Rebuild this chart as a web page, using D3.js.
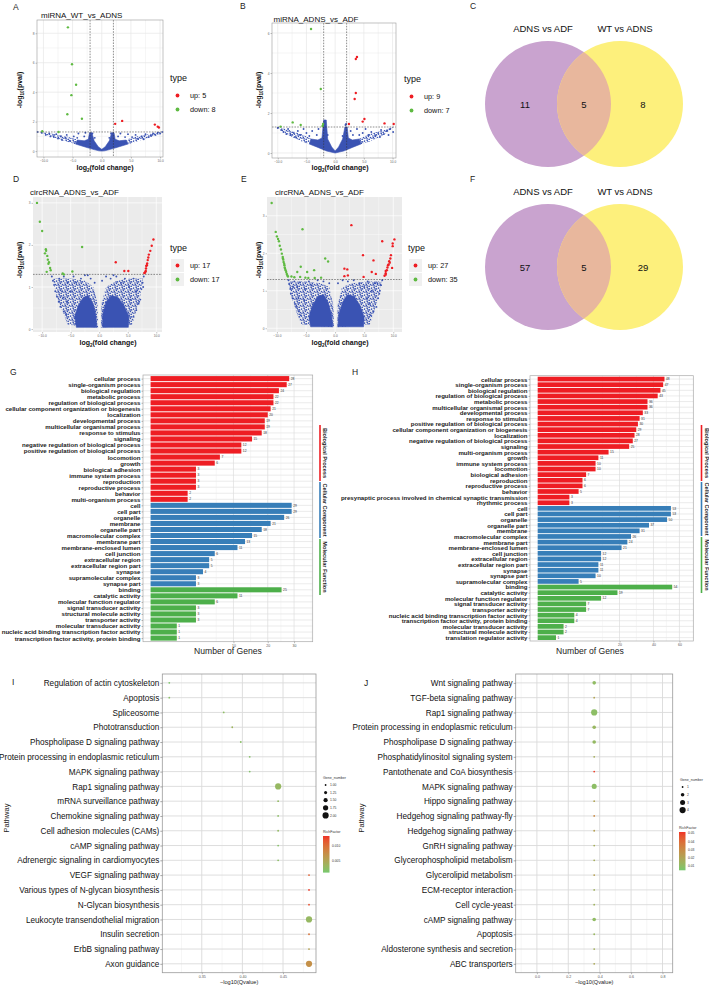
<!DOCTYPE html>
<html>
<head>
<meta charset="utf-8">
<script src="https://d3js.org/d3.v7.min.js"></script>
<style>
body { margin: 0; background: #fff; }
svg { font-family: "Liberation Sans", Arial, Helvetica, sans-serif; }
</style>
</head>
<body>
<script>
// ---------- volcano data (log2FC, -log10 p) ----------
var volA_up = [[2.3,1.85],[3.5,2.05],[9.1,1.8],[9.8,1.6],[9.6,1.66]];
var volA_down = [[-5.8,8.4],[-5.1,5.9],[-4.4,4.5],[-5.2,3.8],[-5.9,2.5],[-3.4,2.2],[-7.4,1.3],[-10.2,1.35]];
var volA_ns = [[-10.3,1.25],[-9.6,1.1],[-9,1.2],[-8.8,1.0],[-8.2,0.95],[-7.8,1.15],[-7.5,0.85],[-7,1.0],[-6.8,0.75],[-6.2,0.9],[-6,1.1],[-5.5,0.7],[-4.8,1.0],[-4.2,0.9],[-4,1.2],[-3,1.0],[-2.8,1.25],[-1.2,0.9],[-1.6,1.2],[1.3,0.9],[1.6,1.2],[2.8,1.0],[3.2,1.2],[4,0.95],[4.5,1.15],[5.2,0.95],[5.8,1.1],[6.2,0.85],[6.8,1.0],[7.2,0.8],[7.5,1.15],[8,0.95],[8.4,1.05],[8.8,1.2],[9.2,1.1],[9.6,1.25],[10,1.2],[-11,1.3],[10.4,1.3]];
// dense blue mass and thinner blue band, as outlines
var volA_dense = [[[-4.5,0.48],[-3,0.3],[-1.5,0.12],[-0.5,0.02],[0,0],[0.5,0.02],[1.5,0.12],[3,0.3],[4.5,0.48],[4.2,0.75],[3,0.7],[2.3,0.8],[2.1,1.25],[1.7,1.25],[1.3,0.7],[0.6,0.3],[0,0.12],[-0.6,0.3],[-1.3,0.7],[-1.7,1.25],[-2.1,1.25],[-2.3,0.8],[-3,0.7],[-4.2,0.75]]];
var volA_sparse = [[[-10.2,1.2],[-8,0.9],[-6,0.65],[-4.5,0.46],[-4.2,0.78],[-6,1.0],[-8,1.15],[-10.2,1.3]],
                   [[10.2,1.2],[8,0.9],[6,0.65],[4.5,0.46],[4.2,0.78],[6,1.0],[8,1.15],[10.2,1.3]]];

var volB_up = [[3.8,4.8],[3.6,4.7],[3.6,3.0],[3.4,2.7],[5.1,1.7],[4.8,1.57],[2.4,1.45],[8.6,1.48],[10.2,1.45]];
var volB_down = [[-4.2,6.2],[-2.5,3.2],[-7.4,1.53],[-6.0,1.4],[-9.5,1.32],[-2.2,1.35],[-2.1,1.45]];
var volB_ns = [[1.9,1.45],[1.8,1.4],[-10,1.25],[-9.4,1.15],[-9,1.05],[-8.5,0.95],[-8.2,1.2],[-7.8,0.9],[-7.2,1.0],[-7,0.8],[-6.5,1.1],[-6,0.9],[-5.5,1.2],[-5,1.0],[-4.5,0.85],[-4,1.1],[-3.2,0.9],[-2.9,1.2],[-1.3,0.9],[1.3,0.85],[2.7,1.1],[3.1,0.9],[3.8,1.2],[4.2,0.9],[4.8,1.0],[5.3,1.2],[5.8,0.9],[6.3,1.05],[7,0.85],[7.5,1.0],[8,1.15],[8.5,0.95],[9,1.1],[9.6,1.2],[10.1,1.05],[7.8,0.8],[9.3,0.9]];
var volB_dense = [[[-4.5,0.45],[-3,0.28],[-1.5,0.1],[0,0],[1.5,0.1],[3,0.28],[4.5,0.45],[4.2,0.7],[3,0.65],[2.3,0.75],[2.1,1.3],[1.7,1.3],[1.3,0.7],[0.6,0.3],[0,0.1],[-0.6,0.3],[-1.3,0.7],[-1.55,1.65],[-2.0,1.65],[-2.3,0.75],[-3,0.65],[-4.2,0.7]]];
var volB_sparse = [[[-10,1.25],[-8,0.88],[-6,0.6],[-4.5,0.43],[-4.2,0.72],[-6,0.95],[-8,1.15],[-10,1.3]],
                   [[10.2,1.27],[8,0.82],[6,0.58],[4.5,0.43],[4.2,0.72],[6,0.95],[8,1.1],[10.2,1.3]]];

var volD_up = [[9.5,2.13],[9.2,1.98],[8.95,1.86],[8.5,1.64],[8.4,1.56],[8.25,1.5],[8.2,1.44],[8.15,1.38],[7.9,1.33],[2.9,1.59],[4.4,1.38],[5.1,1.38],[8.6,1.7],[8.7,1.77],[8.35,1.52],[8.1,1.36],[8.0,1.34]];
var volD_down = [[-10.9,3.0],[-10,2.33],[-9.35,1.9],[-9.3,1.86],[-9.1,1.74],[-8.8,1.59],[-8.5,1.4],[-9.2,1.36],[-6.4,1.32],[-4.7,1.37],[-3.0,1.95],[-9.5,1.8],[-9.0,1.65],[-8.9,1.55],[-8.6,1.45],[-10.4,2.55],[-6.2,1.3]];
var volD_ns = [[-8.3,1.25],[-8.1,1.15],[-7.9,1.05],[-7.7,0.9],[-7.4,0.77],[-7.1,0.65],[-6.8,0.53],[-6.2,0.42],[-5.8,0.35],[7.8,1.25],[7.6,1.1],[7.4,0.95],[7.2,0.7],[6.9,0.6],[6.5,0.45],[6.0,0.29],[7.7,1.0],[7.0,0.65],[-7,1.2],[-6.2,1.25],[-5.5,1.1],[-5,0.9],[-4.5,1.25],[-6.5,0.9],[-4,1.1],[-3.2,1.2],[-2.5,1.28],[-1.5,1.2],[-0.8,1.1],[0.5,1.15],[1.2,1.25],[2,1.2],[3,1.25],[3.8,1.1],[4.5,1.2],[5.2,1.0],[6,1.2],[6.5,0.9],[5.5,0.7],[-5.6,0.65],[-6.3,0.75],[2.5,1.28],[-2,1.28]];
var volD_dense = [[[-4.0,0.04],[-4.3,0.3],[-3.7,0.55],[-2.8,0.75],[-2.0,0.8],[-1.2,0.65],[-0.6,0.35],[-0.4,0.04]],
                  [[0.6,0.04],[0.6,0.35],[1.2,0.65],[2.2,0.8],[3.3,0.75],[4.4,0.55],[5.2,0.3],[5.1,0.04]]];
var volD_sparse = [[[-5.5,0.1],[-6.5,0.45],[-7.5,0.8],[-8.1,1.2],[-5,1.2],[-2.5,1.15],[-1,1.0],[-0.3,0.6],[-0.2,0.03]],
                   [[0.3,0.03],[0.4,0.6],[1.2,1.0],[3,1.15],[5.5,1.2],[7.7,1.2],[7.2,0.8],[6.5,0.45],[5.8,0.1]]];

var volE_up = [[2.8,2.75],[10.2,2.37],[9.9,2.26],[9.9,2.19],[8.1,2.32],[4.8,1.95],[6.6,1.81],[9.5,1.86],[9.3,1.79],[9.0,1.62],[9.8,1.61],[1.6,1.59],[2.1,1.57],[6.3,1.5],[8.7,1.47],[8.7,1.43],[1.6,1.39],[2.2,1.41],[4.9,1.37],[8.7,1.53],[9.6,1.95],[9.2,1.7],[8.9,1.55],[9.1,1.68],[8.5,1.4],[7.0,1.45],[9.4,1.75]];
var volE_down = [[-10.9,3.34],[-10.2,2.57],[-9.65,2.32],[-9.3,2.1],[-9.15,1.99],[-8.97,1.86],[-8.85,1.77],[-8.7,1.68],[-8.6,1.59],[-8.4,1.5],[-8.2,1.41],[-5.6,2.64],[-1.7,1.86],[-1.2,1.78],[-5.9,1.64],[-4.8,1.5],[-3.6,1.55],[-6.0,1.37],[-5.1,1.35],[-4.6,1.34],[-3.5,1.34],[-2.4,1.35],[-7.5,1.38],[-9.5,2.2],[-9.0,1.9],[-8.9,1.83],[-8.75,1.72],[-8.65,1.62],[-8.5,1.55],[-8.3,1.45],[-8.1,1.38],[-10.0,2.45],[-9.8,2.38],[-7.0,1.36],[-6.5,1.5]];
var volE_ns = [[-8.0,1.28],[-7.9,1.18],[-7.7,1.05],[-7.6,0.92],[-7.3,0.8],[-6.9,0.65],[-6.7,0.57],[-6.2,0.45],[-5.9,0.35],[8.1,1.28],[7.9,1.15],[7.7,1.0],[7.6,0.92],[7.4,0.8],[7.1,0.57],[6.6,0.45],[6.1,0.35],[-7,1.25],[-6.5,1.1],[-6,1.22],[-5.2,1.05],[-4.5,1.25],[-4,1.15],[-3,1.28],[-2,1.25],[-1,1.2],[0.5,1.2],[1.3,1.28],[2.2,1.25],[3.2,1.28],[4.2,1.2],[5,1.1],[5.6,1.25],[6.3,1.0],[6.8,1.2],[-6.3,0.8],[-5.3,0.75],[5.5,0.8],[6.0,0.65],[-7.2,1.1],[7.3,1.2]];
var volE_dense = [[[-4.2,0.04],[-4.5,0.3],[-3.9,0.6],[-3.0,0.85],[-2.0,0.9],[-1.2,0.7],[-0.6,0.35],[-0.4,0.04]],
                  [[0.5,0.04],[0.6,0.35],[1.3,0.7],[2.2,0.9],[3.3,0.85],[4.3,0.6],[5.0,0.3],[4.9,0.04]]];
var volE_sparse = [[[-5.8,0.1],[-6.8,0.5],[-7.6,0.9],[-8.0,1.25],[-5,1.25],[-2.5,1.2],[-1,1.1],[-0.3,0.6],[-0.2,0.03]],
                   [[0.3,0.03],[0.4,0.6],[1.2,1.1],[3,1.2],[5.5,1.25],[8.0,1.25],[7.5,0.9],[6.8,0.5],[6.0,0.1]]];

// ---------- venn data ----------
var vennC_sets = ["ADNS vs ADF", "WT vs ADNS"];
var vennC_counts = [11, 5, 8];
var vennF_sets = ["ADNS vs ADF", "WT vs ADNS"];
var vennF_counts = [57, 5, 29];

// ---------- GO data ----------
var goG_bp = ["cellular process","single-organism process","biological regulation","metabolic process","regulation of biological process","cellular component organization or biogenesis","localization","developmental process","multicellular organismal process","response to stimulus","signaling","negative regulation of biological process","positive regulation of biological process","locomotion","growth","biological adhesion","immune system process","reproduction","reproductive process","behavior","multi-organism process"];
var goG_bpN = [28,27,24,22,22,21,20,19,19,18,15,12,12,7,6,3,3,3,3,2,2];
var goG_cc = ["cell","cell part","organelle","membrane","organelle part","macromolecular complex","membrane part","membrane-enclosed lumen","cell junction","extracellular region","extracellular region part","synapse","supramolecular complex","synapse part"];
var goG_ccN = [29,29,26,21,18,15,13,11,6,5,5,4,3,3];
var goG_mf = ["binding","catalytic activity","molecular function regulator","signal transducer activity","structural molecule activity","transporter activity","molecular transducer activity","nucleic acid binding transcription factor activity","transcription factor activity, protein binding"];
var goG_mfN = [25,11,6,3,3,3,1,1,1];

var goH_bp = ["cellular process","single-organism process","biological regulation","regulation of biological process","metabolic process","multicellular organismal process","developmental process","response to stimulus","positive regulation of biological process","cellular component organization or biogenesis","localization","negative regulation of biological process","signaling","multi-organism process","growth","immune system process","locomotion","biological adhesion","reproduction","reproductive process","behavior","presynaptic process involved in chemical synaptic transmission","rhythmic process"];
var goH_bpN = [48,47,45,43,36,36,33,31,30,29,28,27,25,15,11,10,10,7,6,6,5,3,3];
var goH_cc = ["cell","cell part","organelle","organelle part","membrane","macromolecular complex","membrane part","membrane-enclosed lumen","cell junction","extracellular region","extracellular region part","synapse","synapse part","supramolecular complex"];
var goH_ccN = [53,53,50,37,31,26,24,21,12,12,11,11,10,5];
var goH_mf = ["binding","catalytic activity","molecular function regulator","signal transducer activity","transporter activity","nucleic acid binding transcription factor activity","transcription factor activity, protein binding","molecular transducer activity","structural molecule activity","translation regulator activity"];
var goH_mfN = [54,19,12,7,7,4,4,2,2,1];
var goGroups = ["Biological Process", "Cellular Component", "Molecular Function"];

// ---------- KEGG data ----------
var keggI_path = ["Regulation of actin cytoskeleton","Apoptosis","Spliceosome","Phototransduction","Phospholipase D signaling pathway","Protein processing in endoplasmic reticulum","MAPK signaling pathway","Rap1 signaling pathway","mRNA surveillance pathway","Chemokine signaling pathway","Cell adhesion molecules (CAMs)","cAMP signaling pathway","Adrenergic signaling in cardiomyocytes","VEGF signaling pathway","Various types of N-glycan biosynthesis","N-Glycan biosynthesis","Leukocyte transendothelial migration","Insulin secretion","ErbB signaling pathway","Axon guidance"];
var keggI_q = [0.310,0.310,0.377,0.3875,0.398,0.409,0.409,0.444,0.444,0.444,0.444,0.444,0.444,0.482,0.482,0.482,0.482,0.482,0.482,0.482];
var keggI_genes = [1,1,1,1,1,1,1,2,1,1,1,1,1,1,1,1,2,1,1,2];
var keggI_rich = [0.0015,0.0022,0.0025,0.0035,0.0022,0.002,0.0018,0.003,0.0028,0.0024,0.0028,0.002,0.0024,0.011,0.013,0.012,0.003,0.0095,0.0055,0.0072];

var keggJ_path = ["Wnt signaling pathway","TGF-beta signaling pathway","Rap1 signaling pathway","Protein processing in endoplasmic reticulum","Phospholipase D signaling pathway","Phosphatidylinositol signaling system","Pantothenate and CoA biosynthesis","MAPK signaling pathway","Hippo signaling pathway","Hedgehog signaling pathway-fly","Hedgehog signaling pathway","GnRH signaling pathway","Glycerophospholipid metabolism","Glycerolipid metabolism","ECM-receptor interaction","Cell cycle-yeast","cAMP signaling pathway","Apoptosis","Aldosterone synthesis and secretion","ABC transporters"];
var keggJ_q = [0.365,0.365,0.365,0.365,0.365,0.365,0.365,0.365,0.365,0.365,0.365,0.365,0.365,0.365,0.365,0.365,0.365,0.365,0.365,0.365];
var keggJ_genes = [2,1,4,2,2,1,1,3,1,1,1,1,1,1,1,1,2,1,1,1];
var keggJ_rich = [0.010,0.020,0.009,0.012,0.011,0.016,0.050,0.009,0.020,0.030,0.022,0.016,0.016,0.022,0.014,0.014,0.010,0.012,0.015,0.018];

// ---------- drawing ----------
var W = 709, H = 988;
var RED = "#ee1d23", GREEN = "#5fba42", BLUE = "#3a53b3";
var svg = d3.select("body").append("svg").attr("width", W).attr("height", H);
svg.append("rect").attr("width", W).attr("height", H).attr("fill", "#fff");

// speckle pattern used for the thin parts of the blue point clouds
var pat = svg.append("defs").append("pattern").attr("id", "speckle")
  .attr("width", 7).attr("height", 7).attr("patternUnits", "userSpaceOnUse");
[[0.6,1.1],[3.2,0.5],[5.6,1.9],[1.9,3.0],[4.4,3.4],[6.5,4.6],[0.9,5.3],[3.1,5.9],[5.2,6.4],[2.4,4.6],[4.0,1.9]].forEach(function(p) {
  pat.append("circle").attr("cx", p[0]).attr("cy", p[1]).attr("r", 0.8).attr("fill", BLUE);
});

function minors(ticks, dom) {
  var m = [], st = ticks[1] - ticks[0];
  var ext = [ticks[0] - st].concat(ticks, [ticks[ticks.length - 1] + st]);
  for (var i = 0; i < ext.length - 1; i++) {
    var v = (ext[i] + ext[i + 1]) / 2;
    if (v > Math.min(dom[0], dom[1]) && v < Math.max(dom[0], dom[1])) m.push(v);
  }
  return m;
}

// text with a subscript part: pre + sub + post
function subText(t, pre, sub, post, fs) {
  t.append("tspan").text(pre);
  t.append("tspan").attr("font-size", fs * 0.65).attr("dy", fs * 0.3).text(sub);
  t.append("tspan").attr("dy", -fs * 0.3).text(post);
}

function panelLetter(s, x, y) {
  svg.append("text").attr("x", x).attr("y", y).attr("font-size", 8.5).attr("fill", "#222").text(s);
}

function volcano(o) {
  var g = svg.append("g");
  var b = o.box;
  var x = d3.scaleLinear().domain(o.xDom).range([b[0], b[2]]);
  var y = d3.scaleLinear().domain(o.yDom).range([b[3], b[1]]);
  var gray = o.theme === "gray";
  g.append("rect").attr("x", b[0]).attr("y", b[1]).attr("width", b[2] - b[0]).attr("height", b[3] - b[1])
    .attr("fill", gray ? "#ebebeb" : "#fff");
  var gc = gray ? "#fff" : "#e6e6e6";
  minors(o.xTicks, o.xDom).forEach(function(v) {
    g.append("line").attr("x1", x(v)).attr("x2", x(v)).attr("y1", b[1]).attr("y2", b[3]).attr("stroke", gc).attr("stroke-width", 0.35);
  });
  minors(o.yTicks, o.yDom).forEach(function(v) {
    g.append("line").attr("y1", y(v)).attr("y2", y(v)).attr("x1", b[0]).attr("x2", b[2]).attr("stroke", gc).attr("stroke-width", 0.35);
  });
  o.xTicks.forEach(function(v) {
    g.append("line").attr("x1", x(v)).attr("x2", x(v)).attr("y1", b[1]).attr("y2", b[3]).attr("stroke", gc).attr("stroke-width", 0.7);
  });
  o.yTicks.forEach(function(v) {
    g.append("line").attr("y1", y(v)).attr("y2", y(v)).attr("x1", b[0]).attr("x2", b[2]).attr("stroke", gc).attr("stroke-width", 0.7);
  });

  var line = d3.line().x(function(d) { return x(d[0]); }).y(function(d) { return y(d[1]); }).curve(d3.curveLinearClosed);
  o.sparse.forEach(function(poly) {
    g.append("path").attr("d", line(poly)).attr("fill", "url(#speckle)");
  });
  o.dense.forEach(function(poly) {
    g.append("path").attr("d", line(poly)).attr("fill", BLUE).attr("stroke", BLUE).attr("stroke-width", 0.6).attr("stroke-linejoin", "round");
  });
  g.selectAll(null).data(o.ns).enter().append("circle")
    .attr("cx", function(d) { return x(d[0]); }).attr("cy", function(d) { return y(d[1]); })
    .attr("r", 0.95).attr("fill", BLUE);

  var dash = "1.6,1.2";
  if (o.vlines) o.vlines.forEach(function(v) {
    g.append("line").attr("x1", x(v)).attr("x2", x(v)).attr("y1", b[1]).attr("y2", b[3])
      .attr("stroke", "#333").attr("stroke-width", 0.55).attr("stroke-dasharray", dash);
  });
  g.append("line").attr("x1", b[0]).attr("x2", b[2]).attr("y1", y(1.3)).attr("y2", y(1.3))
    .attr("stroke", "#333").attr("stroke-width", 0.55).attr("stroke-dasharray", dash);

  g.selectAll(null).data(o.down).enter().append("circle")
    .attr("cx", function(d) { return x(d[0]); }).attr("cy", function(d) { return y(d[1]); })
    .attr("r", 1.2).attr("fill", GREEN);
  g.selectAll(null).data(o.up).enter().append("circle")
    .attr("cx", function(d) { return x(d[0]); }).attr("cy", function(d) { return y(d[1]); })
    .attr("r", 1.2).attr("fill", RED);

  if (!gray) g.append("rect").attr("x", b[0]).attr("y", b[1]).attr("width", b[2] - b[0]).attr("height", b[3] - b[1])
    .attr("fill", "none").attr("stroke", "#999").attr("stroke-width", 0.6);

  var ax = g.append("g").attr("transform", "translate(0," + b[3] + ")")
    .call(d3.axisBottom(x).tickValues(o.xTicks).tickSize(1.5).tickPadding(1).tickFormat(d3.format(".1f")));
  var ay = g.append("g").attr("transform", "translate(" + b[0] + ",0)")
    .call(d3.axisLeft(y).tickValues(o.yTicks).tickSize(1.5).tickPadding(1).tickFormat(d3.format("d")));
  [ax, ay].forEach(function(a) {
    a.select(".domain").remove();
    a.selectAll("line").attr("stroke", "#666").attr("stroke-width", 0.4);
    a.selectAll("text").attr("font-size", 3.2).attr("fill", "#666").attr("font-family", null);
  });

  g.append("text").attr("x", o.titleAt[0]).attr("y", o.titleAt[1]).attr("font-size", 8).attr("fill", "#111").text(o.title);
  var xl = g.append("text").attr("x", o.xlabAt[0]).attr("y", o.xlabAt[1]).attr("text-anchor", "middle")
    .attr("font-size", 7).attr("font-weight", "bold").attr("fill", "#111");
  subText(xl, "log", "2", "(fold change)", 7);
  var yl = g.append("text").attr("transform", "translate(" + o.ylabAt[0] + "," + o.ylabAt[1] + ") rotate(-90)")
    .attr("text-anchor", "middle").attr("font-size", 7).attr("font-weight", "bold").attr("fill", "#111");
  subText(yl, "-log", "10", "(pval)", 7);

  var L = o.legendAt;
  g.append("text").attr("x", L[0]).attr("y", L[1]).attr("font-size", 9).attr("fill", "#111").text("type");
  var keys = [["up: " + o.up.length, RED], ["down: " + o.down.length, GREEN]];
  keys.forEach(function(k, i) {
    var ky = L[1] + 14.5 + i * 14;
    if (gray) g.append("rect").attr("x", L[0] + 1).attr("y", ky - 6.5).attr("width", 13).attr("height", 13).attr("fill", "#f0f0f0");
    g.append("circle").attr("cx", L[0] + 7.5).attr("cy", ky).attr("r", 1.9).attr("fill", k[1]);
    g.append("text").attr("x", L[0] + 20).attr("y", ky + 2.6).attr("font-size", 7.3).attr("fill", "#111").text(k[0]);
  });
}

function venn(o) {
  var g = svg.append("g");
  var c1 = [o.cx1, o.cy], c2 = [o.cx2, o.cy], r = o.r;
  var id = "clip" + o.cy;
  g.append("clipPath").attr("id", id).append("circle").attr("cx", c1[0]).attr("cy", c1[1]).attr("r", r);
  g.append("circle").attr("cx", c1[0]).attr("cy", c1[1]).attr("r", r).attr("fill", "#c9a3cf");
  g.append("circle").attr("cx", c2[0]).attr("cy", c2[1]).attr("r", r).attr("fill", "#fdf07c");
  g.append("circle").attr("cx", c2[0]).attr("cy", c2[1]).attr("r", r).attr("fill", "#e8b79d").attr("clip-path", "url(#" + id + ")");
  g.append("text").attr("x", c1[0] - 5).attr("y", o.cy - r - 9).attr("text-anchor", "middle").attr("font-size", 9.5).attr("fill", "#111").text(o.sets[0]);
  g.append("text").attr("x", c2[0] + 5).attr("y", o.cy - r - 9).attr("text-anchor", "middle").attr("font-size", 9.5).attr("fill", "#111").text(o.sets[1]);
  var xs = [(c1[0] - r + c2[0] - r) / 2 + 4, (c1[0] + c2[0]) / 2, (c1[0] + r + c2[0] + r) / 2 - 4];
  o.counts.forEach(function(n, i) {
    g.append("text").attr("x", xs[i]).attr("y", o.cy + 3.5).attr("text-anchor", "middle").attr("font-size", 9.5).attr("fill", "#111").text(n);
  });
}

function goChart(o) {
  var g = svg.append("g");
  var b = o.box;
  var terms = [], counts = [], grp = [];
  o.groups.forEach(function(gr, gi) {
    gr[0].forEach(function(t, i) { terms.push(t); counts.push(gr[1][i]); grp.push(gi); });
  });
  var idx = d3.range(terms.length);
  var y = d3.scalePoint().domain(idx).range([b[1], b[3]]).padding(0.6);
  var x = d3.scaleSqrt().domain(o.xDom).range([b[0], b[2]]);
  var step = y.step();
  var cols = [RED, "#377eb8", "#4daf4a"];
  g.append("rect").attr("x", b[0]).attr("y", b[1]).attr("width", b[2] - b[0]).attr("height", b[3] - b[1]).attr("fill", "#fff");
  idx.forEach(function(i) {
    g.append("line").attr("x1", b[0]).attr("x2", b[2]).attr("y1", y(i)).attr("y2", y(i)).attr("stroke", "#e2e2e2").attr("stroke-width", 0.7);
  });
  var sq = o.ticks.map(Math.sqrt);
  var sdom = [Math.sign(o.xDom[0]) * Math.sqrt(Math.abs(o.xDom[0])), Math.sqrt(o.xDom[1])];
  minors(sq, sdom).forEach(function(v) {
    g.append("line").attr("x1", x(v * v)).attr("x2", x(v * v)).attr("y1", b[1]).attr("y2", b[3]).attr("stroke", "#ebebeb").attr("stroke-width", 0.4);
  });
  o.ticks.forEach(function(v) {
    g.append("line").attr("x1", x(v)).attr("x2", x(v)).attr("y1", b[1]).attr("y2", b[3]).attr("stroke", "#dcdcdc").attr("stroke-width", 0.7);
  });
  g.selectAll(null).data(idx).enter().append("rect")
    .attr("x", x(0)).attr("y", function(i) { return y(i) - step * 0.42; })
    .attr("width", function(i) { return x(counts[i]) - x(0); }).attr("height", step * 0.84)
    .attr("fill", function(i) { return cols[grp[i]]; });
  g.selectAll(null).data(idx).enter().append("text")
    .attr("x", function(i) { return x(counts[i]) + 1.5; }).attr("y", function(i) { return y(i) + 1.2; })
    .attr("font-size", 3.3).attr("fill", "#333").text(function(i) { return counts[i]; });
  g.append("rect").attr("x", b[0]).attr("y", b[1]).attr("width", b[2] - b[0]).attr("height", b[3] - b[1])
    .attr("fill", "none").attr("stroke", "#aaa").attr("stroke-width", 0.7);
  var ay = g.append("g").attr("transform", "translate(" + b[0] + ",0)")
    .call(d3.axisLeft(y).tickSize(1.5).tickPadding(1).tickFormat(function(i) { return terms[i]; }));
  ay.select(".domain").remove();
  ay.selectAll("line").attr("stroke", "#555").attr("stroke-width", 0.4);
  ay.selectAll("text").attr("font-size", 6.1).attr("font-weight", "bold").attr("fill", "#1a1a1a").attr("font-family", null);
  var ax = g.append("g").attr("transform", "translate(0," + b[3] + ")")
    .call(d3.axisBottom(x).tickValues(o.ticks).tickSize(1.5).tickPadding(1).tickFormat(d3.format("d")));
  ax.select(".domain").remove();
  ax.selectAll("line").attr("stroke", "#555").attr("stroke-width", 0.4);
  ax.selectAll("text").attr("font-size", 3.5).attr("fill", "#555").attr("font-family", null);
  g.append("text").attr("x", o.xlabAt[0]).attr("y", o.xlabAt[1]).attr("text-anchor", "middle")
    .attr("font-size", 8.6).attr("fill", "#222").text("Number of Genes");
  // category strips
  o.strips.forEach(function(s, i) {
    g.append("line").attr("x1", o.stripX).attr("x2", o.stripX).attr("y1", s[0]).attr("y2", s[1])
      .attr("stroke", cols[i]).attr("stroke-width", 1.6);
    g.append("text").attr("transform", "translate(" + (o.stripX + 3) + "," + ((s[0] + s[1]) / 2) + ") rotate(90)")
      .attr("text-anchor", "middle").attr("font-size", 5.6).attr("font-weight", "bold").attr("fill", "#222").text(goGroups[i]);
  });
}

function bubble(o) {
  var g = svg.append("g");
  var b = o.box;
  var y = d3.scalePoint().domain(o.path).range([b[1], b[3]]).padding(0.6);
  var x = d3.scaleLinear().domain(o.xDom).range([b[0], b[2]]);
  var size = d3.scaleSqrt().domain(o.sizeDom).range(o.sizeRange);
  var color = d3.scaleLinear().domain(o.colorDom).range(["#76c96e", "#ef3328"]).interpolate(d3.interpolateLab);
  g.append("rect").attr("x", b[0]).attr("y", b[1]).attr("width", b[2] - b[0]).attr("height", b[3] - b[1]).attr("fill", "#fff");
  minors(o.ticks, o.xDom).forEach(function(v) {
    g.append("line").attr("x1", x(v)).attr("x2", x(v)).attr("y1", b[1]).attr("y2", b[3]).attr("stroke", "#ececec").attr("stroke-width", 0.5);
  });
  o.ticks.forEach(function(v) {
    g.append("line").attr("x1", x(v)).attr("x2", x(v)).attr("y1", b[1]).attr("y2", b[3]).attr("stroke", "#dadada").attr("stroke-width", 0.9);
  });
  o.path.forEach(function(p) {
    g.append("line").attr("x1", b[0]).attr("x2", b[2]).attr("y1", y(p)).attr("y2", y(p)).attr("stroke", "#dadada").attr("stroke-width", 0.9);
  });
  g.append("rect").attr("x", b[0]).attr("y", b[1]).attr("width", b[2] - b[0]).attr("height", b[3] - b[1])
    .attr("fill", "none").attr("stroke", "#9a9a9a").attr("stroke-width", 0.8);
  g.selectAll(null).data(d3.range(o.path.length)).enter().append("circle")
    .attr("cx", function(i) { return x(o.q[i]); }).attr("cy", function(i) { return y(o.path[i]); })
    .attr("r", function(i) { return size(o.genes[i]); }).attr("fill", function(i) { return color(o.rich[i]); });
  var ay = g.append("g").attr("transform", "translate(" + b[0] + ",0)")
    .call(d3.axisLeft(y).tickSize(2).tickPadding(1));
  ay.select(".domain").remove();
  ay.selectAll("line").attr("stroke", "#555").attr("stroke-width", 0.5);
  ay.selectAll("text").attr("font-size", 8.2).attr("fill", "#111").attr("font-family", null);
  var ax = g.append("g").attr("transform", "translate(0," + b[3] + ")")
    .call(d3.axisBottom(x).tickValues(o.ticks).tickSize(1.5).tickPadding(1.5).tickFormat(d3.format(o.fmt)));
  ax.select(".domain").remove();
  ax.selectAll("line").attr("stroke", "#555").attr("stroke-width", 0.4);
  ax.selectAll("text").attr("font-size", 3.6).attr("fill", "#555").attr("font-family", null);
  g.append("text").attr("x", (b[0] + b[2]) / 2).attr("y", b[3] + 11.5).attr("text-anchor", "middle")
    .attr("font-size", 5.6).attr("fill", "#222").text("\u2212log10(Qvalue)");
  g.append("text").attr("transform", "translate(" + o.pathwayAt[0] + "," + o.pathwayAt[1] + ") rotate(-90)")
    .attr("text-anchor", "middle").attr("font-size", 7.5).attr("fill", "#222").text("Pathway");

  // size legend
  var S = o.sizeLeg;
  g.append("text").attr("x", S[0]).attr("y", S[1]).attr("font-size", 3.6).attr("fill", "#333").text("Gene_number");
  o.sizeBreaks.forEach(function(v, i) {
    var cy = S[1] + 6 + i * S[2];
    g.append("circle").attr("cx", S[0] + 2.6).attr("cy", cy).attr("r", size(v)).attr("fill", "#111");
    g.append("text").attr("x", S[0] + 7).attr("y", cy + 1.2).attr("font-size", 3.3).attr("fill", "#333").text(o.sizeFmt(v));
  });
  // colour legend
  var C = o.colLeg;
  g.append("text").attr("x", C[0]).attr("y", C[1]).attr("font-size", 3.6).attr("fill", "#333").text("RichFactor");
  var gid = "grad" + Math.round(b[0]);
  var grad = g.append("defs").append("linearGradient").attr("id", gid).attr("x1", 0).attr("x2", 0).attr("y1", 1).attr("y2", 0);
  d3.range(0, 1.01, 0.1).forEach(function(t) {
    grad.append("stop").attr("offset", t).attr("stop-color", color(o.colorDom[0] + t * (o.colorDom[1] - o.colorDom[0])));
  });
  var cb = d3.scaleLinear().domain(o.colorDom).range([C[1] + 3 + C[2], C[1] + 3]);
  g.append("rect").attr("x", C[0]).attr("y", C[1] + 3).attr("width", 6.5).attr("height", C[2]).attr("fill", "url(#" + gid + ")");
  o.colBreaks.forEach(function(v) {
    g.append("text").attr("x", C[0] + 9).attr("y", cb(v) + 1.2).attr("font-size", 3.3).attr("fill", "#333").text(o.colFmt(v));
  });
}

// ---- A, B, D, E : volcano plots
volcano({ box: [37, 20, 163, 157], xDom: [-11.1, 10.5], yDom: [-0.4, 8.9], xTicks: [-10, -5, 0, 5, 10], yTicks: [0, 2, 4, 6, 8],
  theme: "bw", vlines: [-2, 2], title: "miRNA_WT_vs_ADNS", titleAt: [41, 18.3], xlabAt: [105, 170], ylabAt: [22, 90],
  legendAt: [170, 81], up: volA_up, down: volA_down, ns: volA_ns, dense: volA_dense, sparse: volA_sparse });
volcano({ box: [272, 23, 396, 158], xDom: [-11.0, 10.6], yDom: [-0.25, 6.5], xTicks: [-10, -5, 0, 5, 10], yTicks: [0, 2, 4, 6],
  theme: "bw", vlines: [-2, 2], title: "miRNA_ADNS_vs_ADF", titleAt: [273.5, 21.5], xlabAt: [340, 170], ylabAt: [261, 90],
  legendAt: [404, 82], up: volB_up, down: volB_down, ns: volB_ns, dense: volB_dense, sparse: volB_sparse });
volcano({ box: [33, 197, 162, 332], xDom: [-11.6, 11.0], yDom: [-0.07, 3.14], xTicks: [-10, -5, 0, 5, 10], yTicks: [0, 1, 2, 3],
  theme: "gray", title: "circRNA_ADNS_vs_ADF", titleAt: [30, 195], xlabAt: [108, 345], ylabAt: [22, 260],
  legendAt: [170, 251], up: volD_up, down: volD_down, ns: volD_ns, dense: volD_dense, sparse: volD_sparse });
volcano({ box: [267, 197, 402, 332], xDom: [-11.7, 11.5], yDom: [-0.1, 3.5], xTicks: [-10, -5, 0, 5, 10], yTicks: [0, 1, 2, 3],
  theme: "gray", title: "circRNA_ADNS_vs_ADF", titleAt: [275, 195], xlabAt: [340, 345], ylabAt: [261, 260],
  legendAt: [408, 251], up: volE_up, down: volE_down, ns: volE_ns, dense: volE_dense, sparse: volE_sparse });

// ---- C, F : Venn diagrams
venn({ cx1: 548, cx2: 620, cy: 104, r: 63, sets: vennC_sets, counts: vennC_counts });
venn({ cx1: 548, cx2: 620, cy: 267, r: 63, sets: vennF_sets, counts: vennF_counts });

// ---- G, H : GO bar charts
goChart({ box: [143, 375, 312.7, 641.7], xDom: [-0.084, 38.3], ticks: [10, 20, 30],
  groups: [[goG_bp, goG_bpN], [goG_cc, goG_ccN], [goG_mf, goG_mfN]],
  xlabAt: [228, 654], stripX: 320, strips: [[425, 481], [482, 538], [539, 595]] });
goChart({ box: [530, 375.7, 693.3, 641], xDom: [-0.176, 72.3], ticks: [20, 40, 60],
  groups: [[goH_bp, goH_bpN], [goH_cc, goH_ccN], [goH_mf, goH_mfN]],
  xlabAt: [590, 654], stripX: 701.5, strips: [[425, 481], [482, 536], [537, 593]] });

// ---- I, J : KEGG bubble charts
bubble({ box: [162.3, 674, 316, 972.7], path: keggI_path, q: keggI_q, genes: keggI_genes, rich: keggI_rich,
  xDom: [0.3014, 0.4906], ticks: [0.35, 0.40, 0.45], fmt: ".2f", sizeDom: [1, 2], sizeRange: [0.9, 3.1],
  colorDom: [0.0011, 0.0133], pathwayAt: [9, 818],
  sizeLeg: [323, 779, 7.6], sizeBreaks: [1, 1.25, 1.5, 1.75, 2], sizeFmt: d3.format(".2f"),
  colLeg: [323, 833, 36.6], colBreaks: [0.005, 0.010], colFmt: d3.format(".3f") });
bubble({ box: [515.7, 674, 672.7, 972.7], path: keggJ_path, q: keggJ_q, genes: keggJ_genes, rich: keggJ_rich,
  xDom: [-0.135, 0.865], ticks: [0, 0.2, 0.4, 0.6, 0.8], fmt: ".1f", sizeDom: [1, 4], sizeRange: [0.9, 3.1],
  colorDom: [0.004, 0.0516], pathwayAt: [364, 818],
  sizeLeg: [680, 781, 7.7], sizeBreaks: [1, 2, 3, 4], sizeFmt: d3.format("d"),
  colLeg: [679, 829, 38.3], colBreaks: [0.01, 0.02, 0.03, 0.04, 0.05], colFmt: d3.format(".2f") });

// ---- panel letters
panelLetter("A", 13, 10); panelLetter("B", 240, 8.5); panelLetter("C", 470, 8.5);
panelLetter("D", 13, 182); panelLetter("E", 241, 182); panelLetter("F", 470, 182);
panelLetter("G", 10, 375); panelLetter("H", 352, 375);
panelLetter("I", 12, 685); panelLetter("J", 364, 686);
</script>
</body>
</html>
